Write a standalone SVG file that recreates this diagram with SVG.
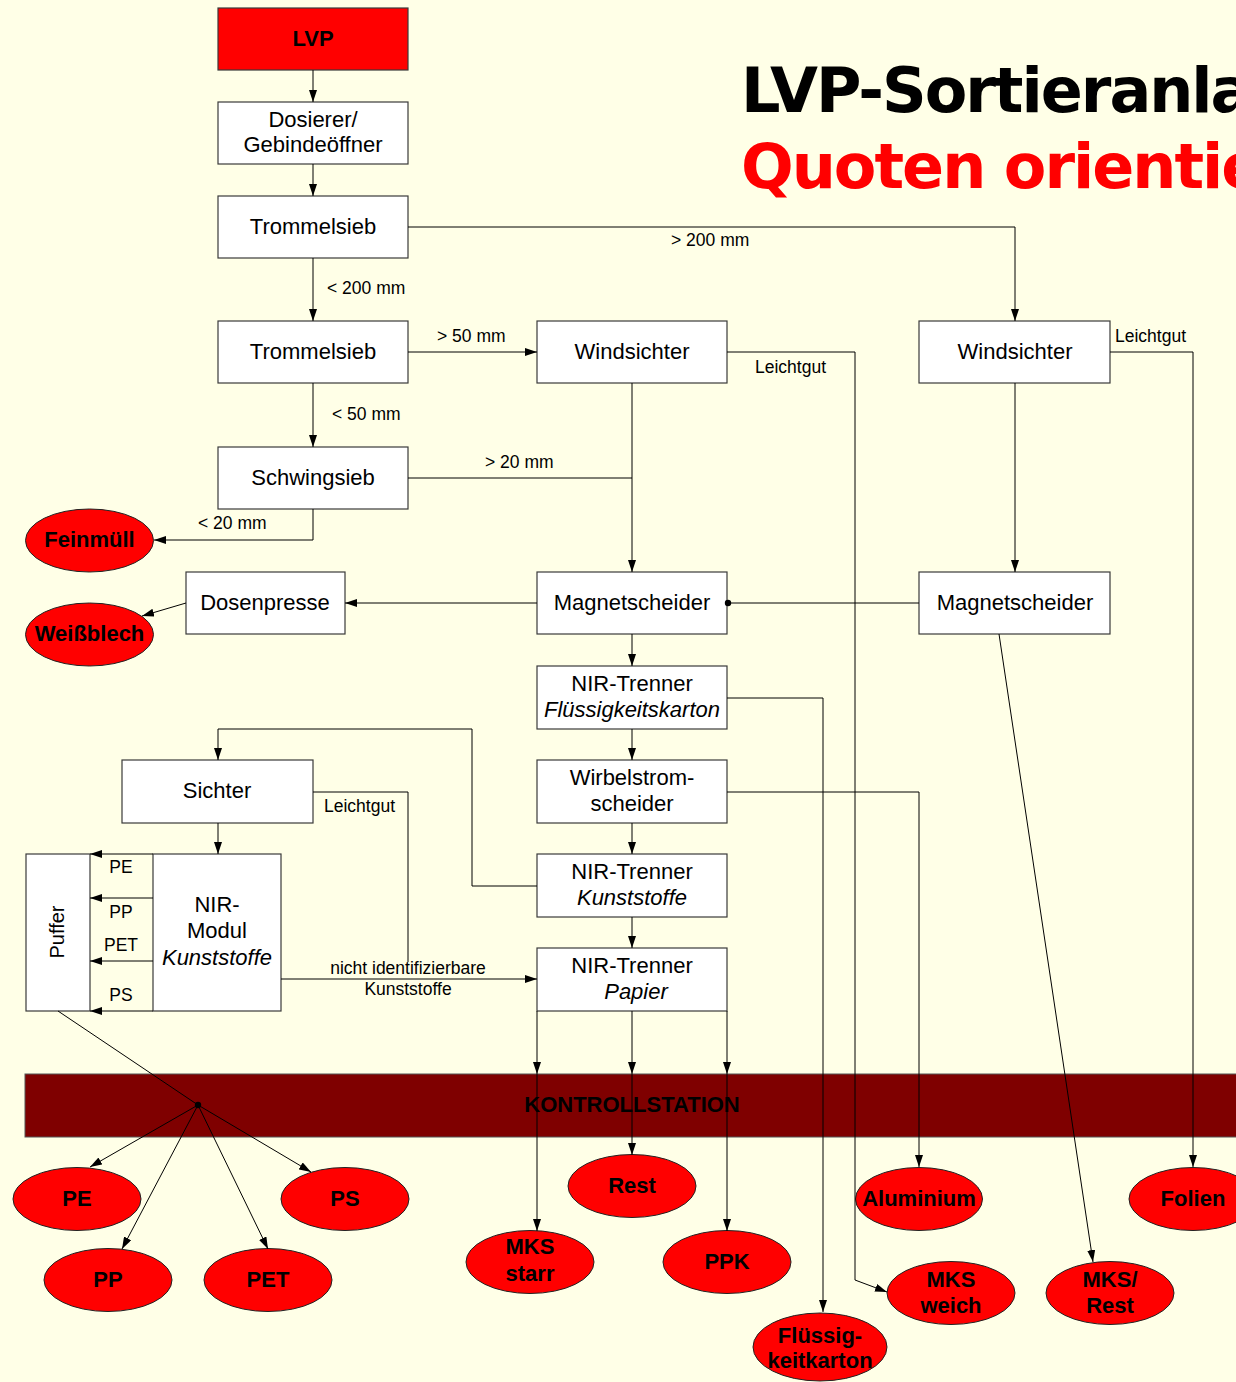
<svg xmlns="http://www.w3.org/2000/svg" width="1236" height="1382" viewBox="0 0 1236 1382">
<defs>
<marker id="ah" markerUnits="userSpaceOnUse" markerWidth="12" markerHeight="8" refX="12" refY="4" orient="auto">
<path d="M0,0 L12,4 L0,8 z" fill="#000"/>
</marker>
<style>
.bx{fill:#fff;stroke:#3a3a3a;stroke-width:1.2}
.red{fill:#ff0000;stroke:#3a3a3a;stroke-width:1.2}
.el{fill:#ff0000;stroke:#222;stroke-width:1}
.t{font-family:"Liberation Sans",Arial,sans-serif;font-size:22px;fill:#000;text-anchor:middle}
.i{font-style:italic}
.b{font-weight:bold}
.s{font-family:"Liberation Sans",Arial,sans-serif;font-size:17.5px;fill:#000}
.m{text-anchor:middle}
.et{font-family:"Liberation Sans",Arial,sans-serif;font-size:22px;font-weight:bold;fill:#000;text-anchor:middle}
.c{fill:none;stroke:#000;stroke-width:1}
.a{marker-end:url(#ah)}
</style>
</defs>
<rect x="0" y="0" width="1236" height="1382" fill="#ffffe7"/>

<g id="title">
<text x="741" y="112" font-family="DejaVu Sans,Verdana,sans-serif" font-weight="bold" font-size="62" letter-spacing="-2" fill="#000">LVP-Sortieranla</text>
<text x="741" y="188" font-family="DejaVu Sans,Verdana,sans-serif" font-weight="bold" font-size="62" letter-spacing="-2" fill="#ff0000">Quoten orientie</text>
</g>

<g id="lvp"><rect class="red" x="218" y="8" width="190" height="62"/><text class="t b" x="313" y="46">LVP</text></g>
<g id="dosierer"><rect class="bx" x="218" y="102" width="190" height="62"/><text class="t" x="313" y="127">Dosierer/</text><text class="t" x="313" y="152">Gebindeöffner</text></g>
<g id="trommelsieb1"><rect class="bx" x="218" y="196" width="190" height="62"/><text class="t" x="313" y="234">Trommelsieb</text></g>
<g id="trommelsieb2"><rect class="bx" x="218" y="321" width="190" height="62"/><text class="t" x="313" y="359">Trommelsieb</text></g>
<g id="schwingsieb"><rect class="bx" x="218" y="447" width="190" height="62"/><text class="t" x="313" y="485">Schwingsieb</text></g>
<g id="windsichter-m"><rect class="bx" x="537" y="321" width="190" height="62"/><text class="t" x="632" y="359">Windsichter</text></g>
<g id="windsichter-r"><rect class="bx" x="919" y="321" width="191" height="62"/><text class="t" x="1015" y="359">Windsichter</text></g>
<g id="magnet-m"><rect class="bx" x="537" y="572" width="190" height="62"/><text class="t" x="632" y="610">Magnetscheider</text></g>
<g id="magnet-r"><rect class="bx" x="919" y="572" width="191" height="62"/><text class="t" x="1015" y="610">Magnetscheider</text></g>
<g id="dosenpresse"><rect class="bx" x="186" y="572" width="159" height="62"/><text class="t" x="265" y="610">Dosenpresse</text></g>
<g id="nir-fk"><rect class="bx" x="537" y="666" width="190" height="63"/><text class="t" x="632" y="691">NIR-Trenner</text><text class="t i" x="632" y="717">Flüssigkeitskarton</text></g>
<g id="wirbelstrom"><rect class="bx" x="537" y="760" width="190" height="63"/><text class="t" x="632" y="785">Wirbelstrom-</text><text class="t" x="632" y="811">scheider</text></g>
<g id="nir-k"><rect class="bx" x="537" y="854" width="190" height="63"/><text class="t" x="632" y="879">NIR-Trenner</text><text class="t i" x="632" y="905">Kunststoffe</text></g>
<g id="nir-p"><rect class="bx" x="537" y="948" width="190" height="63"/><text class="t" x="632" y="973">NIR-Trenner</text><text class="t i" x="636" y="999">Papier</text></g>
<g id="sichter"><rect class="bx" x="122" y="760" width="191" height="63"/><text class="t" x="217" y="798">Sichter</text></g>
<g id="nir-modul"><rect class="bx" x="153" y="854" width="128" height="157"/><text class="t" x="217" y="912">NIR-</text><text class="t" x="217" y="938">Modul</text><text class="t i" x="217" y="965">Kunststoffe</text></g>
<g id="puffer"><rect class="bx" x="26" y="854" width="64" height="157"/><text class="t" style="font-size:20px" transform="translate(64,932) rotate(-90)" x="0" y="0">Puffer</text></g>

<g id="kontrollstation"><rect x="25" y="1074" width="1230" height="63" fill="#7f0000" stroke="#555" stroke-width="1"/><text class="et" x="632" y="1112">KONTROLLSTATION</text></g>

<g id="feinmuell"><ellipse class="el" cx="89.5" cy="540.5" rx="64" ry="31.5"/><text class="et" x="89.5" y="547">Feinmüll</text></g>
<g id="weissblech"><ellipse class="el" cx="89.5" cy="634.5" rx="64" ry="31.5"/><text class="et" x="89.5" y="641">Weißblech</text></g>
<g id="pe"><ellipse class="el" cx="77" cy="1199" rx="64" ry="31.5"/><text class="et" x="77" y="1206">PE</text></g>
<g id="ps"><ellipse class="el" cx="345" cy="1199" rx="64" ry="31.5"/><text class="et" x="345" y="1206">PS</text></g>
<g id="pp"><ellipse class="el" cx="108" cy="1280" rx="64" ry="31.5"/><text class="et" x="108" y="1287">PP</text></g>
<g id="pet"><ellipse class="el" cx="268" cy="1280" rx="64" ry="31.5"/><text class="et" x="268" y="1287">PET</text></g>
<g id="mks-starr"><ellipse class="el" cx="530" cy="1262" rx="64" ry="31.5"/><text class="et" x="530" y="1254">MKS</text><text class="et" x="530" y="1281">starr</text></g>
<g id="rest"><ellipse class="el" cx="632" cy="1186" rx="64" ry="31.5"/><text class="et" x="632" y="1193">Rest</text></g>
<g id="ppk"><ellipse class="el" cx="727" cy="1262" rx="64" ry="31.5"/><text class="et" x="727" y="1269">PPK</text></g>
<g id="fluessig"><ellipse class="el" cx="820" cy="1347" rx="67" ry="34"/><text class="et" x="820" y="1343">Flüssig-</text><text class="et" x="820" y="1368">keitkarton</text></g>
<g id="aluminium"><ellipse class="el" cx="919" cy="1199" rx="63.5" ry="31.5"/><text class="et" x="919" y="1206">Aluminium</text></g>
<g id="mks-weich"><ellipse class="el" cx="951" cy="1293" rx="64" ry="31.5"/><text class="et" x="951" y="1287">MKS</text><text class="et" x="951" y="1313">weich</text></g>
<g id="mks-rest"><ellipse class="el" cx="1110" cy="1293" rx="64" ry="31.5"/><text class="et" x="1110" y="1287">MKS/</text><text class="et" x="1110" y="1313">Rest</text></g>
<g id="folien"><ellipse class="el" cx="1193" cy="1199" rx="64" ry="31.5"/><text class="et" x="1193" y="1206">Folien</text></g>

<g id="connectors">
<path class="c a" d="M313,70 V102"/>
<path class="c a" d="M313,164 V196"/>
<path class="c a" d="M313,258 V321"/>
<path class="c a" d="M408,227 H1015 V321"/>
<path class="c a" d="M408,352 H537"/>
<path class="c a" d="M313,383 V447"/>
<path class="c a" d="M313,509 V540 H154"/>
<path class="c" d="M408,478 H632"/>
<path class="c a" d="M632,383 V572"/>
<path class="c a" d="M727,352 H855 V1280 L887,1292"/>
<path class="c a" d="M1110,352 H1193 V1167"/>
<path class="c a" d="M1015,383 V572"/>
<path class="c" d="M919,603 H727"/>
<circle cx="728" cy="603" r="3.2" fill="#000"/>
<path class="c a" d="M999,634 L1093,1262"/>
<path class="c a" d="M537,603 H345"/>
<path class="c a" d="M186,603 L142,616"/>
<path class="c a" d="M632,634 V666"/>
<path class="c a" d="M727,698 H823 V1312"/>
<path class="c a" d="M632,729 V760"/>
<path class="c a" d="M727,792 H919 V1167"/>
<path class="c a" d="M632,823 V854"/>
<path class="c a" d="M537,886 H472 V729 H218 V760"/>
<path class="c a" d="M632,917 V948"/>
<path class="c a" d="M218,823 V854"/>
<path class="c" d="M313,792 H408 V962"/>
<path class="c a" d="M281,979 H537"/>
<path class="c a" d="M153,854 H90"/>
<path class="c a" d="M153,898 H90"/>
<path class="c a" d="M153,961 H90"/>
<path class="c a" d="M153,1011 H90"/>
<path class="c" d="M58,1011 L198,1105"/>
<circle cx="198" cy="1105" r="3.2" fill="#000"/>
<path class="c a" d="M198,1105 L90,1167"/>
<path class="c a" d="M198,1105 L122,1249"/>
<path class="c a" d="M198,1105 L268,1249"/>
<path class="c a" d="M198,1105 L311,1172"/>
<path class="c a" d="M537,1011 V1074"/>
<path class="c a" d="M632,1011 V1074"/>
<path class="c a" d="M727,1011 V1074"/>
<path class="c a" d="M537,1074 V1231"/>
<path class="c a" d="M632,1074 V1155"/>
<path class="c a" d="M727,1074 V1231"/>
</g>

<g id="labels">
<text class="s" x="671" y="246">&gt; 200 mm</text>
<text class="s" x="327" y="294">&lt; 200 mm</text>
<text class="s" x="437" y="342">&gt; 50 mm</text>
<text class="s" x="332" y="420">&lt; 50 mm</text>
<text class="s" x="485" y="468">&gt; 20 mm</text>
<text class="s" x="198" y="529">&lt; 20 mm</text>
<text class="s" x="755" y="373">Leichtgut</text>
<text class="s" x="1115" y="342">Leichtgut</text>
<text class="s" x="324" y="812">Leichtgut</text>
<text class="s m" x="121" y="873">PE</text>
<text class="s m" x="121" y="918">PP</text>
<text class="s m" x="121" y="951">PET</text>
<text class="s m" x="121" y="1001">PS</text>
<text class="s m" x="408" y="974">nicht identifizierbare</text>
<text class="s m" x="408" y="995">Kunststoffe</text>
</g>
</svg>
